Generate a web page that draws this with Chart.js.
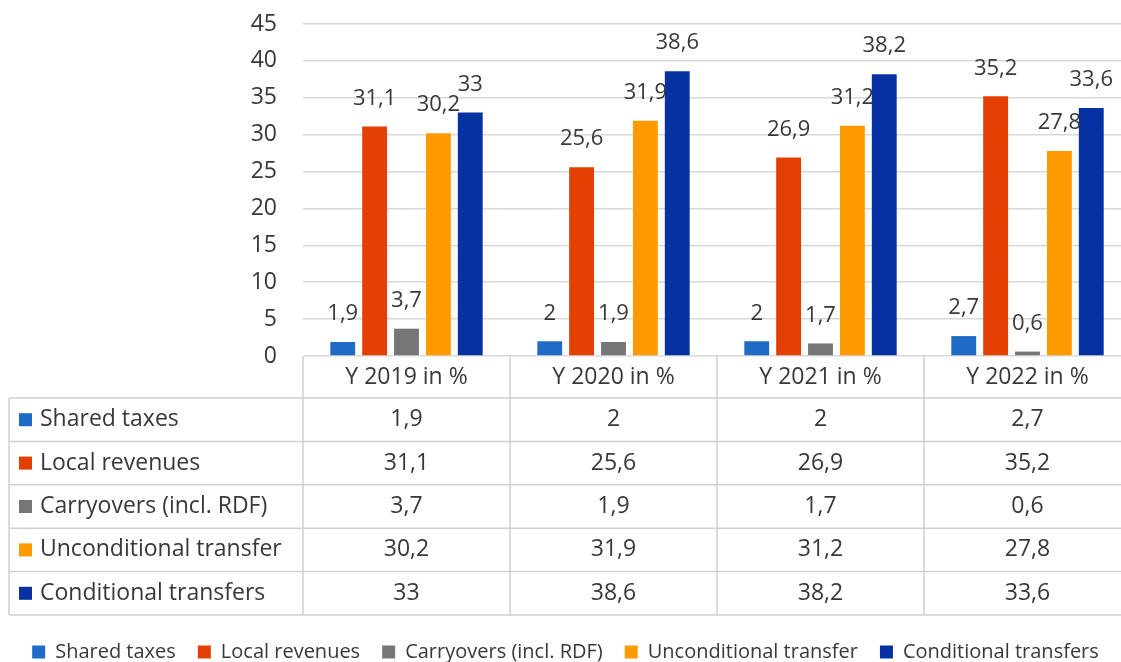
<!DOCTYPE html>
<html>
<head>
<meta charset="utf-8">
<title>Revenue structure</title>
<script src="https://cdn.jsdelivr.net/npm/chart.js@4.4.1/dist/chart.umd.min.js"></script>
<style>
  html, body { margin: 0; padding: 0; background: #fff; overflow: hidden; }
  #wrap { width: 1135px; height: 662px; }
</style>
</head>
<body>
<div id="wrap"><canvas id="revChart"></canvas></div>
<script>
// categories and series
const years = ['Y 2019 in %', 'Y 2020 in %', 'Y 2021 in %', 'Y 2022 in %'];
const sharedTaxes = [1.9, 2, 2, 2.7];
const localRevenues = [31.1, 25.6, 26.9, 35.2];
const carryovers = [3.7, 1.9, 1.7, 0.6];
const unconditionalTransfer = [30.2, 31.9, 31.2, 27.8];
const conditionalTransfers = [33, 38.6, 38.2, 33.6];

const TEXT = '#383838';
const FONT = "'Open Sans', sans-serif";
Chart.defaults.font.family = FONT;
Chart.defaults.color = TEXT;

const fmt = v => String(v).replace('.', ',');

// value labels above bars
const barLabels = {
    id: 'barLabels',
    afterDatasetsDraw(chart) {
        const ctx = chart.ctx;
        ctx.save();
        ctx.font = '22px ' + FONT;
        ctx.fillStyle = TEXT;
        ctx.textAlign = 'center';
        ctx.textBaseline = 'middle';
        chart.data.datasets.forEach((ds, di) => {
            chart.getDatasetMeta(di).data.forEach((bar, i) => {
                ctx.fillText(fmt(ds.data[i]), bar.x, bar.y - 28);
            });
        });
        ctx.restore();
    }
};

// data table under the plot
const dataTable = {
    id: 'dataTable',
    afterDraw(chart) {
        const ctx = chart.ctx;
        const area = chart.chartArea;
        const x = chart.scales.x;
        const colW = area.width / years.length;
        const top = area.bottom;
        const headBottom = top + 42;
        const rowH = 43.4;
        const rows = chart.data.datasets.length;
        const tableBottom = headBottom + rows * rowH;
        const leftEdge = 9;

        ctx.save();
        ctx.strokeStyle = '#d0d0d0';
        ctx.lineWidth = 1.5;
        ctx.beginPath();
        for (let i = 0; i <= years.length; i++) {
            const xx = area.left + i * colW;
            ctx.moveTo(xx, top);
            ctx.lineTo(xx, tableBottom);
        }
        ctx.moveTo(leftEdge, headBottom);
        ctx.lineTo(leftEdge, tableBottom);
        for (let r = 0; r <= rows; r++) {
            const yy = headBottom + r * rowH;
            ctx.moveTo(leftEdge, yy);
            ctx.lineTo(area.right, yy);
        }
        ctx.stroke();

        ctx.font = '23px ' + FONT;
        ctx.fillStyle = TEXT;
        ctx.textAlign = 'center';
        ctx.textBaseline = 'middle';
        years.forEach((lab, i) => ctx.fillText(lab, x.getPixelForValue(i), (top + headBottom) / 2));

        chart.data.datasets.forEach((ds, r) => {
            const cy = headBottom + r * rowH + rowH / 2;
            ctx.fillStyle = ds.backgroundColor;
            ctx.fillRect(19, cy - 6.5, 13, 13);
            ctx.fillStyle = TEXT;
            ctx.textAlign = 'left';
            ctx.fillText(ds.label, 40, cy);
            ctx.textAlign = 'center';
            ds.data.forEach((v, i) => ctx.fillText(fmt(v), x.getPixelForValue(i), cy));
        });
        ctx.restore();
    }
};

const PAD_BOTTOM = -10;

const ctx = document.getElementById('revChart').getContext('2d');
const revChart = new Chart(ctx, {
    type: 'bar',
    data: {
        labels: years,
        datasets: [
            { label: 'Shared taxes', data: sharedTaxes, backgroundColor: '#1f6bc6' },
            { label: 'Local revenues', data: localRevenues, backgroundColor: '#e33f00' },
            { label: 'Carryovers (incl. RDF)', data: carryovers, backgroundColor: '#767676' },
            { label: 'Unconditional transfer', data: unconditionalTransfer, backgroundColor: '#ff9a00' },
            { label: 'Conditional transfers', data: conditionalTransfers, backgroundColor: '#0531a3' }
        ]
    },
    options: {
        responsive: true,
        maintainAspectRatio: false,
        animation: false,
        categoryPercentage: 0.77,
        barPercentage: 0.78,
        layout: { padding: { top: 24, left: 0, right: 4, bottom: PAD_BOTTOM } },
        plugins: {
            tooltip: { enabled: false },
            legend: {
                position: 'bottom',
                labels: { boxWidth: 13, boxHeight: 13, padding: 22, color: TEXT, font: { size: 20 } }
            }
        },
        scales: {
            x: {
                grid: { display: false },
                border: { display: false },
                ticks: { display: false },
                afterFit(s) {
                    const lg = s.chart.legend ? s.chart.legend.height || 0 : 0;
                    s.height = Math.max(0, s.chart.height - 356 - lg - PAD_BOTTOM);
                }
            },
            y: {
                min: 0,
                max: 45,
                grid: { color: '#d9d9d9', lineWidth: 1.5, drawTicks: true, tickLength: 26, tickColor: 'rgba(0,0,0,0)' },
                border: { display: false },
                ticks: { stepSize: 5, padding: 0, color: TEXT, font: { size: 23 } },
                afterFit(s) { s.width = 303; }
            }
        }
    },
    plugins: [barLabels, dataTable]
});
</script>
</body>
</html>
